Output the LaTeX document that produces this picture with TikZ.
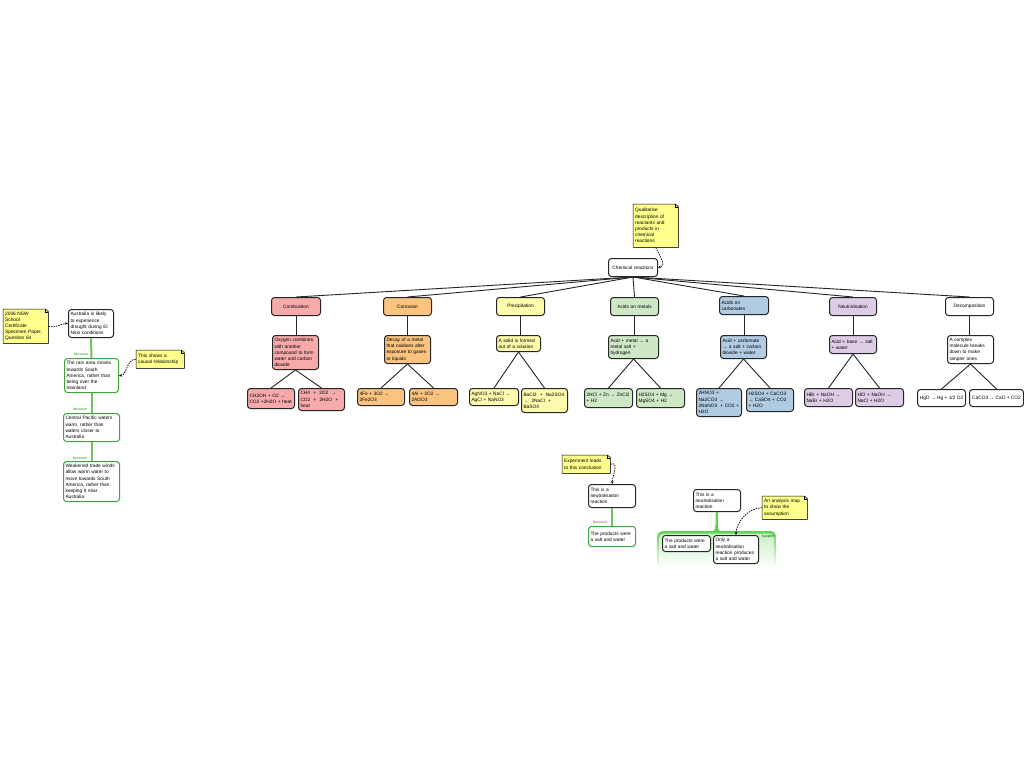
\documentclass[tikz,border=0pt]{standalone}
\usepackage{fontspec}
\setmainfont{Liberation Sans}
\usetikzlibrary{arrows.meta,shadows}

\definecolor{combred}{RGB}{246,170,170}
\definecolor{corrorange}{RGB}{250,196,128}
\definecolor{precyellow}{RGB}{255,251,172}
\definecolor{metalgreen}{RGB}{206,232,198}
\definecolor{carbblue}{RGB}{176,203,226}
\definecolor{neutpurple}{RGB}{222,204,230}
\definecolor{noteyellow}{RGB}{255,255,140}
\definecolor{boxgreen}{RGB}{60,165,60}
\definecolor{linkgreen}{RGB}{110,195,100}
\definecolor{suppgreen}{RGB}{95,210,85}

\begin{document}
\begin{tikzpicture}[x=1pt, y=-1pt,
	base/.style={anchor=north west, inner sep=2pt, align=left, font=\fontsize{4.8}{6.2}\selectfont},
	box/.style={base, draw=black!85, line width=1pt, rounded corners=3pt, fill=white},
	greenbox/.style={box, draw=boxgreen},
	catbox/.style={box, align=center, minimum height=18pt},
	note/.style={base, fill=noteyellow, drop shadow={shadow xshift=1.2pt, shadow yshift=-1.2pt, fill=black!50}},
	link/.style={draw=linkgreen, line width=2pt},
	notelink/.style={dash pattern=on 1.5pt off 1pt, line width=0.7pt, -{Stealth[length=3pt,width=2.5pt]}},
	tree/.style={draw=black!85, line width=0.9pt},
	because/.style={font=\fontsize{3.8}{4}\selectfont, text=boxgreen, inner sep=0.5pt}]
\fill[white] (0,0) rectangle (1024,768);
\useasboundingbox (0,0) rectangle (1024,768);

% El Nino argument
\node[note, text width=41pt, minimum height=34pt] (srcnote) at (3,309) {2006 NSW\\School\\Certificate\\Specimen Paper,\\Question 64};
\node[box, text width=41pt, minimum height=28pt] (aus) at (68,309) {Australia is likely\\to experience\\drought during El\\Nino conditions};
\node[greenbox, text width=50pt, minimum height=34pt] (rain) at (64,358) {The rain area moves\\towards South\\America, rather than\\being over the\\mainland};
\node[note, text width=44pt, minimum height=18pt] (causenote) at (136,350) {This shows a\\causal relationship};
\node[greenbox, text width=52pt, minimum height=28pt] (pacific) at (63,413) {Central Pacific waters\\warm, rather than\\waters closer to\\Australia};
\node[greenbox, text width=52pt, minimum height=40pt] (winds) at (63,461) {Weakened trade winds\\allow warm water to\\move towards South\\America, rather than\\keeping it near\\Australia};
\node[because] (bc1) at (81,354) {because};
\node[because] (bc2) at (80,409) {because};
\node[because] (bc3) at (80,458) {because};
\draw[link] (aus.south) -- (rain.north);
\draw[link] (rain.south) -- (pacific.north);
\draw[link] (pacific.south) -- (winds.north);
\draw[notelink] (srcnote.east) .. controls +(10,2) and +(-8,0) .. (aus.west);
\draw[notelink] (causenote.west) .. controls +(-10,0) and +(8,0) .. (rain.east);

% chemical reactions tree
\node[note, text width=41pt, minimum height=43pt] (qualnote) at (633,204) {Qualitative\\description of\\reactants and\\products in\\chemical\\reactions};
\node[box, align=center, text width=45pt, minimum height=18pt] (chem) at (608,258) {Chemical reactions};
\draw[notelink] (qualnote.south) .. controls +(6,12) and +(8,-2) .. (chem.east);

\node[catbox, fill=combred, text width=45pt] (comb) at (271,297) {Combustion};
\node[catbox, fill=corrorange, text width=44pt] (corr) at (383,297) {Corrosion};
\node[catbox, fill=precyellow, text width=44pt] (prec) at (496,297) {Precipitation};
\node[catbox, fill=metalgreen, text width=44pt] (metal) at (610,297) {Acids on metals};
\node[catbox, fill=carbblue, text width=45pt, align=left] (carb) at (719,296) {Acids on\\carbonates};
\node[catbox, fill=neutpurple, text width=43pt] (neut) at (829,297) {Neutralisation};
\node[catbox, text width=44pt] (decomp) at (945,297) {Decomposition};

\node[box, fill=combred, text width=42pt, minimum height=34pt] (comb-def) at (272,335) {Oxygen combines\\with another\\compound to form\\water and carbon\\dioxide};
\node[box, fill=corrorange, text width=42pt, minimum height=28pt] (corr-def) at (384,335) {Decay of a metal\\that oxidises after\\exposure to gases\\or liquids};
\node[box, fill=precyellow, text width=40pt, minimum height=16pt] (prec-def) at (496,335) {A solid is formed\\out of a solution};
\node[box, fill=metalgreen, text width=46pt, minimum height=23pt] (metal-def) at (608,335) {Acid + metal → a\\metal salt +\\hydrogen};
\node[box, fill=carbblue, text width=42pt, minimum height=23pt] (carb-def) at (720,335) {Acid + carbonate\\→ a salt + carbon\\dioxide + water};
\node[box, fill=neutpurple, text width=43pt, minimum height=18pt] (neut-def) at (829,335) {Acid + base → salt\\+ water};
\node[box, text width=42pt, minimum height=28pt] (decomp-def) at (947,335) {A complex\\molecule breaks\\down to make\\simpler ones};

\node[box, fill=combred, text width=43pt, minimum height=20pt] (comb-eq1) at (247,388) {CH3OH + O2 →\\CO2 +2H2O + heat};
\node[box, fill=combred, text width=42pt, minimum height=22pt] (comb-eq2) at (298,388) {CH4 \ + \ 2O2 \ →\\CO2 \ + \ 2H2O \ +\\heat};
\node[box, fill=corrorange, text width=43pt, minimum height=17pt] (corr-eq1) at (357,388) {4Fe + 3O2 →\\2Fe2O3};
\node[box, fill=corrorange, text width=44pt, minimum height=17pt] (corr-eq2) at (409,388) {4Al + 3O2 →\\2Al2O3};
\node[box, fill=precyellow, text width=45pt, minimum height=17pt] (prec-eq1) at (469,388) {AgNO3 + NaCl →\\AgCl + NaNO3};
\node[box, fill=precyellow, text width=42pt, minimum height=24pt] (prec-eq2) at (521,388) {BaCl2 \ + \ Na2SO4\\→ \ 2NaCl \ +\\BaSO4};
\node[box, fill=metalgreen, text width=44pt, minimum height=19pt] (metal-eq1) at (584,388) {2HCl + Zn → ZnCl2\\+ H2};
\node[box, fill=metalgreen, text width=44pt, minimum height=19pt] (metal-eq2) at (636,388) {H2SO4 + Mg →\\MgSO4 + H2};
\node[box, fill=carbblue, text width=41pt, minimum height=28pt] (carb-eq1) at (696,388) {2HNO3 +\\Na2CO3 →\\2NaNO3 \ + CO2 +\\H2O};
\node[box, fill=carbblue, text width=43pt, minimum height=23pt] (carb-eq2) at (746,388) {H2SO4 + CaCO3\\→ CaSO4 + CO2\\+ H2O};
\node[box, fill=neutpurple, text width=44pt, minimum height=18pt] (neut-eq1) at (804,388) {HBr + NaOH →\\NaBr + H2O};
\node[box, fill=neutpurple, text width=44pt, minimum height=18pt] (neut-eq2) at (855,388) {HCl + NaOH →\\NaCl + H2O};
\node[box, minimum width=48pt, minimum height=17pt] (decomp-eq1) at (917,389) {HgO → Hg + 1/2 O2};
\node[box, minimum width=54pt, minimum height=17pt] (decomp-eq2) at (969,389) {CaCO3 → CaO + CO2};

\foreach \c in {comb,corr,prec,metal,carb,neut,decomp}{
	\draw[tree] (chem.south) -- (\c.north);
	\draw[tree] (\c.south) -- (\c.south |- \c-def.north);
	\draw[tree] (\c-def.south) -- (\c-eq1.north);
	\draw[tree] (\c-def.south) -- (\c-eq2.north);
}

% experiment conclusion
\node[note, text width=44pt, minimum height=18pt] (expnote) at (562,455) {Experiment leads\\to this conclusion};
\node[box, text width=43pt, minimum height=23pt] (reaction) at (588,484) {This is a\\neutralisation\\reaction};
\node[greenbox, text width=43pt, minimum height=20pt] (products) at (588,526) {The products were\\a salt and water};
\node[because] (bc4) at (600,522.5) {because};
\draw[link] (reaction.south) -- (products.north);
\draw[notelink] (expnote.east) .. controls +(9,-3) and +(1,-10) .. (reaction.north);

% analysis map
\node[anchor=north west, inner sep=0pt, minimum width=119pt, minimum height=37pt, rounded corners=5pt, top color=suppgreen, bottom color=white] (support) at (657,531) {};
\node[anchor=north west, inner sep=0pt, minimum width=115pt, minimum height=34pt, rounded corners=4pt, top color=suppgreen!35, bottom color=white] (supportin) at (659,533.5) {};
\node[font=\fontsize{3.7}{4}\selectfont, text=black!60!green, inner sep=0pt] (supptext) at (768,537) {support};
\node[box, text width=43pt, minimum height=22pt] (analysis) at (693,489) {This is a\\neutralisation\\reaction};
\node[note, text width=41pt, minimum height=23pt] (mapnote) at (762,496) {An analysis map\\to show the\\assumption};
\node[box, text width=44pt, minimum height=16pt] (products2) at (662,535) {The products were\\a salt and water};
\node[box, text width=41pt, minimum height=28pt] (onlyneut) at (713,535) {Only a\\neutralisation\\reaction produces\\a salt and water};
\draw[draw=suppgreen, line width=2.5pt] (analysis.south) -- (support.north);
\fill[suppgreen] (710,531.5) .. controls (714,531.5) and (715.25,530) .. (715.25,526) -- (717.75,526) .. controls (717.75,530) and (719,531.5) .. (723,531.5) -- cycle;
\draw[notelink] (mapnote.west) .. controls +(-14,0) and +(0,-12) .. (onlyneut.north);

% folded corners of the notes
\foreach \n in {srcnote,causenote,qualnote,expnote,mapnote}{
	\fill[white] ([xshift=-3pt]\n.north east) -- (\n.north east) -- ([yshift=-3pt]\n.north east) -- cycle;
	\draw[line width=0.5pt] (\n.south west) -- (\n.north west) -- ([xshift=-3pt]\n.north east) -- ([yshift=-3pt]\n.north east) -- (\n.south east) -- cycle;
	\draw[line width=0.5pt] ([xshift=-3pt]\n.north east) -- ([xshift=-3pt,yshift=-3pt]\n.north east) -- ([yshift=-3pt]\n.north east);
}
\end{tikzpicture}
\end{document}
